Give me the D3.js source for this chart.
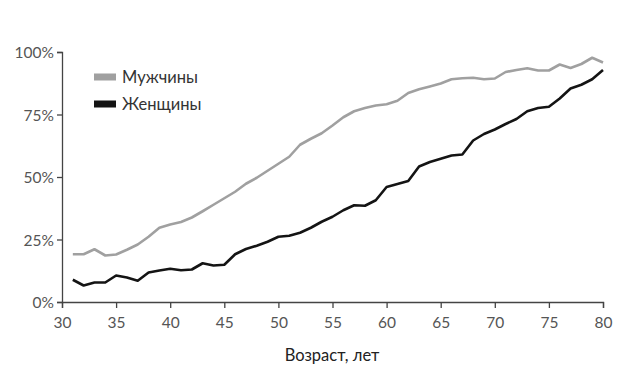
<!DOCTYPE html>
<html><head><meta charset="utf-8">
<script src="https://cdn.jsdelivr.net/npm/d3@7"></script>
<style>body{margin:0;background:#fff}svg{display:block}</style>
</head><body><svg id="c" width="640" height="369"></svg>
<script>
const ages = d3.range(31, 81);
const men = [19.1,19.1,21.1,18.6,19.0,20.9,23.0,26.1,29.7,31.0,32.0,33.8,36.3,38.9,41.5,44.1,47.3,49.7,52.5,55.3,58.1,62.9,65.3,67.5,70.6,73.9,76.3,77.6,78.6,79.1,80.5,83.6,85.1,86.2,87.4,89.1,89.5,89.7,89.1,89.4,92.0,92.8,93.5,92.6,92.6,95.0,93.6,95.2,97.7,95.8];
const women = [8.9,6.6,7.8,7.8,10.6,9.8,8.5,11.8,12.6,13.3,12.7,13.0,15.5,14.6,14.9,19.1,21.2,22.5,24.1,26.1,26.5,27.7,29.7,32.1,34.1,36.7,38.7,38.5,40.7,46.0,47.2,48.4,54.2,56.0,57.3,58.6,59.0,64.6,67.2,69.0,71.2,73.2,76.3,77.6,78.1,81.4,85.4,86.9,89.1,92.8];
const xTicks = [30,35,40,45,50,55,60,65,70,75,80];
const yTicks = [0,25,50,75,100];
const seriesNames = ["Мужчины","Женщины"];
const seriesColors = ["#a0a0a0","#141414"];

const svg = d3.select("#c");
const x = d3.scaleLinear().domain([30,80]).range([62,603]);
const y = d3.scaleLinear().domain([0,100]).range([302,52]);
const font = "Lato, 'Open Sans', sans-serif";

const gx = svg.append("g").attr("transform","translate(0,302)")
  .call(d3.axisBottom(x).tickValues(xTicks).tickSize(6).tickPadding(9).tickFormat(d3.format("d")));
const gy = svg.append("g").attr("transform","translate(62,0)")
  .call(d3.axisLeft(y).tickValues(yTicks).tickSize(5).tickPadding(3).tickFormat(d=>d+"%"));
[gx,gy].forEach(g=>{
  g.select(".domain").attr("stroke","#444").attr("stroke-width",1.3);
  g.selectAll(".tick line").attr("stroke","#444").attr("stroke-width",1.3);
  g.selectAll(".tick text").attr("fill","#555").style("font-family",font).style("font-weight",400).style("font-size","15.5px");
});
gy.selectAll(".tick text").attr("dy","0.36em");

const line = d3.line().x((d,i)=>x(ages[i])).y(d=>y(d));
[men,women].forEach((s,k)=>{
  svg.append("path").datum(s).attr("d",line).attr("fill","none")
    .attr("stroke",seriesColors[k]).attr("stroke-width",2.6).attr("stroke-linejoin","round");
});

seriesNames.forEach((n,k)=>{
  const yy = 77 + k*27;
  svg.append("rect").attr("x",94).attr("y",yy-3.5).attr("width",22).attr("height",7).attr("fill",seriesColors[k]);
  svg.append("text").attr("x",122).attr("y",yy).attr("dy","0.35em").text(n)
    .attr("fill","#333").style("font-family",font).style("font-size","16.5px").style("font-weight",400);
});

svg.append("text").attr("x",332).attr("y",355).attr("dy","0.35em").attr("text-anchor","middle")
  .text("Возраст, лет").attr("fill","#222").style("font-family",font).style("font-size","16.5px");
</script></body></html>
